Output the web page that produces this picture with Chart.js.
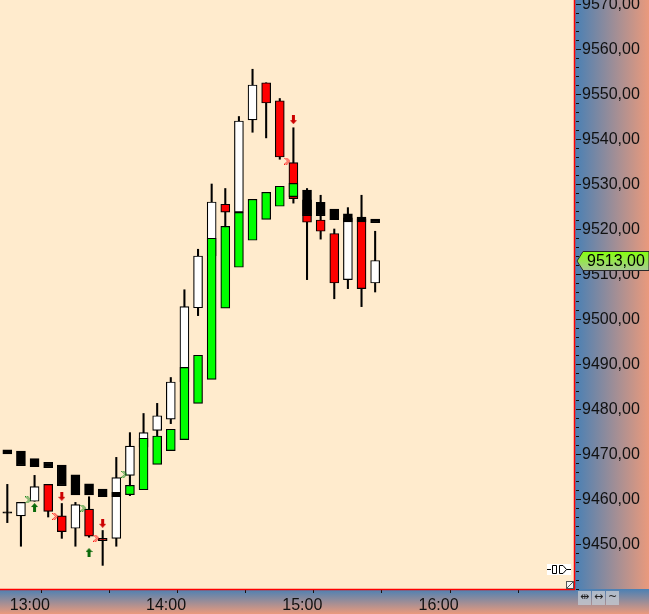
<!DOCTYPE html>
<html>
<head>
<meta charset="utf-8">
<title>Intraday chart</title>
<script src="https://cdn.jsdelivr.net/npm/chart.js@4.4.0/dist/chart.umd.min.js"></script>
<style>
  html, body { margin: 0; padding: 0; background: #ffffff; }
  #wrap { width: 649px; height: 614px; }
</style>
</head>
<body>
<div id="wrap"><canvas id="chart" width="649" height="614"></canvas></div>
<script>
/* 6 minute bars, bar 0 = 13:00 */
var barOpen  = [9457.0, 9456.25, 9459.5, 9463.25, 9456.25, 9453.5, 9457.75, 9451.25, 9451.25, 9465.25, 9471.5, 9475.25, 9477.75, 9486.0, 9502.5, 9514.0, 9525.5, 9523.75, 9544.25, 9552.5, 9548.5, 9534.75, 9526.5, 9522.0, 9519.0, 9508.75, 9522.25, 9508.0];
var barHigh  = [9463.25, 9459.25, 9465.25, 9463.25, 9459.0, 9459.25, 9460.5, 9453.0, 9469.25, 9474.75, 9479.0, 9481.25, 9487.0, 9506.5, 9515.5, 9530.0, 9529.0, 9545.0, 9555.5, 9552.5, 9549.0, 9542.5, 9529.0, 9527.5, 9520.0, 9524.75, 9527.5, 9519.5];
var barLow   = [9454.75, 9449.5, 9459.5, 9456.0, 9451.25, 9449.5, 9451.5, 9445.25, 9449.5, 9460.75, 9470.0, 9472.5, 9476.75, 9484.5, 9500.75, 9512.0, 9519.5, 9521.5, 9541.5, 9540.25, 9535.5, 9525.75, 9508.75, 9517.75, 9504.5, 9506.75, 9502.75, 9506.0];
var barClose = [9457.0, 9459.25, 9462.75, 9457.25, 9452.75, 9458.75, 9451.75, 9450.75, 9464.75, 9471.75, 9474.75, 9478.5, 9486.0, 9502.75, 9514.0, 9526.0, 9523.75, 9544.0, 9552.0, 9548.0, 9536.0, 9526.75, 9521.5, 9519.5, 9508.0, 9522.5, 9506.75, 9513.0];

/* indicator blocks (green = up, black = down) */
var blockTop    = [9470.9, 9470.65, 9469.0, 9468.15, 9467.55, 9465.35, 9463.35, 9462.2, 9461.5, 9463.05, 9473.5, 9474.0, 9475.5, 9489.25, 9491.95, 9517.95, 9520.6, 9523.7, 9526.6, 9528.15, 9529.5, 9530.15, 9528.65, 9525.95, 9524.45, 9523.35, 9522.65, 9522.2];
var blockBottom = [9470.0, 9467.4, 9467.2, 9466.95, 9462.95, 9460.9, 9460.9, 9460.5, 9460.5, 9460.95, 9462.05, 9467.7, 9470.75, 9473.2, 9481.25, 9486.6, 9502.4, 9511.5, 9517.5, 9522.15, 9525.05, 9527.2, 9522.95, 9522.95, 9522.05, 9521.6, 9521.6, 9521.4];
var blockUp     = [0, 0, 0, 0, 0, 0, 0, 0, 0, 1, 1, 1, 1, 1, 1, 1, 1, 1, 1, 1, 1, 1, 0, 0, 0, 0, 0, 0];

/* signal markers */
var upArrowX = [2, 6];
var upArrowY = [9458.1, 9448.1];
var downArrowX = [4, 7, 21];
var downArrowY = [9460.6, 9454.6, 9544.3];
var buyMarkX = [1.54, 5.57, 8.59];
var buyMarkY = [9459.8, 9458.0, 9465.5];
var sellMarkX = [3.52, 6.53, 20.55];
var sellMarkY = [9456.15, 9451.3, 9535.1];

/* axes */
var xTickPos = [0, 5, 10, 15, 20, 25, 30, 35];
var xTickLabels = ['13:00', '', '14:00', '', '15:00', '', '16:00', ''];
var yLabelTicks = [9450, 9460, 9470, 9480, 9490, 9500, 9510, 9520, 9530, 9540, 9550, 9560, 9570];
var yMinorStep = 2;
var yMin = 9440, yMax = 9570.89;
var xMin = -0.537, xMax = 41.67;

var FONT = "16px 'Liberation Sans', Arial, sans-serif";
Chart.defaults.font.family = "'Liberation Sans', Arial, sans-serif";
Chart.defaults.font.size = 16;
Chart.defaults.color = '#000000';

function fmtPrice(v){
	return v.toFixed(2).replace('.', ',');
}

/* small pixel icons used as point styles */
function makeArrow(color, up){
	var c = document.createElement('canvas');
	c.width = 7; c.height = 9;
	var g = c.getContext('2d');
	g.fillStyle = color;
	g.beginPath();
	if(up){
		g.moveTo(3.5, 0); g.lineTo(7, 4); g.lineTo(5, 4); g.lineTo(5, 9);
		g.lineTo(2, 9); g.lineTo(2, 4); g.lineTo(0, 4);
	}else{
		g.moveTo(2, 0); g.lineTo(5, 0); g.lineTo(5, 5); g.lineTo(7, 5);
		g.lineTo(3.5, 9); g.lineTo(0, 5); g.lineTo(2, 5);
	}
	g.closePath();
	g.fill();
	return c;
}

function makeChevron(color){
	var rows = ["X.X...", ".X.X..", "..X.X.", "...X.X", "..X.X.", ".X.X..", "X.X..."];
	var c = document.createElement('canvas');
	c.width = 6; c.height = 7;
	var g = c.getContext('2d');
	g.fillStyle = color;
	for(var r = 0; r < rows.length; r++){
		for(var k = 0; k < rows[r].length; k++){
			if(rows[r][k] == 'X'){ g.fillRect(k, r, 1, 1); }
		}
	}
	return c;
}

/* build datasets from the arrays */
var wickData = [], bodyData = [], bodyColors = [], blockData = [], blockColors = [];
for(var i = 0; i < barOpen.length; i++){
	wickData.push({x: i, y: [barLow[i], barHigh[i]]});
	var o = barOpen[i], c = barClose[i];
	if(o == c){
		bodyData.push({x: i, y: [o - 0.15, o + 0.15]});
		bodyColors.push('#000000');
	}else{
		bodyData.push({x: i, y: [o, c]});
		bodyColors.push(c > o ? '#FFFFFF' : '#FF0000');
	}
	blockData.push({x: i, y: [blockBottom[i], blockTop[i]]});
	blockColors.push(blockUp[i] ? '#00FF00' : '#000000');
}

function pts(xs, ys){
	var out = [];
	for(var k = 0; k < xs.length; k++){ out.push({x: xs[k], y: ys[k]}); }
	return out;
}

var framePlugin = {
	id: 'frame',
	beforeDraw: function(chart){
		var ctx = chart.ctx, a = chart.chartArea, W = chart.width, H = chart.height;
		ctx.save();
		ctx.fillStyle = '#FFEBCD';
		ctx.fillRect(a.left, a.top, a.right - a.left, a.bottom - a.top);
		var g = ctx.createLinearGradient(a.right, 0, W, 0);
		g.addColorStop(0, '#4A80B4');
		g.addColorStop(1, '#EA9A7C');
		ctx.fillStyle = g;
		ctx.fillRect(a.right, 0, W - a.right, a.bottom);
		var g2 = ctx.createLinearGradient(0, a.bottom, 0, H);
		g2.addColorStop(0, '#4A80B4');
		g2.addColorStop(1, '#EA9A7C');
		ctx.fillStyle = g2;
		ctx.fillRect(0, a.bottom, W, H - a.bottom);

		/* y ticks and labels: long mark on labelled values, short on the rest */
		var ys = chart.scales.y;
		ctx.strokeStyle = '#111111';
		ctx.fillStyle = '#111111';
		ctx.lineWidth = 1;
		ctx.font = FONT;
		ctx.textAlign = 'left';
		ctx.textBaseline = 'middle';
		ys.ticks.forEach(function(t){
			var py = Math.round(ys.getPixelForValue(t.value)) + 0.5;
			var major = yLabelTicks.indexOf(t.value) >= 0;
			ctx.beginPath();
			ctx.moveTo(a.right + 1, py);
			ctx.lineTo(a.right + 1 + (major ? 5 : 3), py);
			ctx.stroke();
			if(major){ ctx.fillText(fmtPrice(t.value), a.right + 7, py + 0.5); }
		});
		ctx.restore();
	},
	afterDraw: function(chart){
		var ctx = chart.ctx, a = chart.chartArea, W = chart.width;
		ctx.save();
		/* red frame */
		ctx.strokeStyle = '#FF0000';
		ctx.lineWidth = 1.5;
		ctx.beginPath();
		ctx.moveTo(a.right - 0.5, 0);
		ctx.lineTo(a.right - 0.5, a.bottom + 0.5);
		ctx.lineTo(0, a.bottom + 0.5);
		ctx.stroke();

		/* last price label */
		var last = barClose[barClose.length - 1];
		var py = Math.round(chart.scales.y.getPixelForValue(last));
		var lg = ctx.createLinearGradient(0, py - 9, 0, py + 10);
		lg.addColorStop(0, '#86FF10');
		lg.addColorStop(1, '#A8C898');
		ctx.fillStyle = lg;
		ctx.strokeStyle = '#2a2a2a';
		ctx.lineWidth = 1;
		ctx.beginPath();
		ctx.moveTo(a.right + 2, py);
		ctx.lineTo(a.right + 8, py - 9.5);
		ctx.lineTo(W, py - 9.5);
		ctx.lineTo(W, py + 9.5);
		ctx.lineTo(a.right + 8, py + 9.5);
		ctx.closePath();
		ctx.fill();
		ctx.stroke();
		ctx.fillStyle = '#000000';
		ctx.font = FONT;
		ctx.textBaseline = 'middle';
		ctx.textAlign = 'left';
		ctx.fillText(fmtPrice(last), a.right + 12, py + 1);

		/* connection icon */
		ctx.fillStyle = '#FFFFFF';
		ctx.fillRect(547, 564, 24, 11);
		ctx.strokeStyle = '#000000';
		ctx.lineWidth = 1;
		ctx.beginPath();
		ctx.moveTo(547, 569.5); ctx.lineTo(551, 569.5);
		ctx.moveTo(556.5, 565.5); ctx.lineTo(552.5, 565.5); ctx.lineTo(552.5, 573.5); ctx.lineTo(556.5, 573.5);
		ctx.moveTo(556.5, 565.5); ctx.lineTo(556.5, 573.5);
		ctx.moveTo(559.5, 565.5); ctx.lineTo(563, 565.5); ctx.lineTo(566.5, 569.5); ctx.lineTo(563, 573.5); ctx.lineTo(559.5, 573.5); ctx.closePath();
		ctx.moveTo(566.5, 569.5); ctx.lineTo(571, 569.5);
		ctx.stroke();

		/* resize corner */
		ctx.fillStyle = '#F4F4F4';
		ctx.fillRect(566, 581, 8, 8);
		ctx.strokeStyle = '#555555';
		ctx.strokeRect(566.5, 581.5, 7, 7);
		ctx.beginPath();
		ctx.moveTo(567, 588); ctx.lineTo(573, 582);
		ctx.stroke();

		/* corner buttons */
		var bx = [578, 592, 606];
		var bt = ['\u21F9', '\u2194', '~'];
		for(var k = 0; k < bx.length; k++){
			ctx.fillStyle = 'rgba(190,196,206,0.85)';
			ctx.fillRect(bx[k], 591, 13, 14);
			ctx.fillStyle = '#222222';
			ctx.font = "11px 'DejaVu Sans', sans-serif";
			ctx.textAlign = 'center';
			ctx.fillText(bt[k], bx[k] + 6.5, 597);
		}
		ctx.restore();
	}
};

var ctx = document.getElementById('chart').getContext('2d');
var chart = new Chart(ctx, {
	type: 'bar',
	data: {
		datasets: [
			{
				type: 'scatter', label: 'buy', order: 0,
				data: pts(upArrowX, upArrowY),
				pointStyle: makeArrow('#0B6A0B', true), showLine: false
			},
			{
				type: 'scatter', label: 'sell', order: 0,
				data: pts(downArrowX, downArrowY),
				pointStyle: makeArrow('#CC0000', false), showLine: false
			},
			{
				type: 'scatter', label: 'buyMark', order: 0,
				data: pts(buyMarkX, buyMarkY),
				pointStyle: makeChevron('#1E8A1E'), showLine: false
			},
			{
				type: 'scatter', label: 'sellMark', order: 0,
				data: pts(sellMarkX, sellMarkY),
				pointStyle: makeChevron('#FF1010'), showLine: false
			},
			{
				label: 'blocks', order: 1,
				data: blockData,
				backgroundColor: blockColors,
				borderColor: '#000000', borderWidth: 1.2, borderSkipped: false,
				barThickness: 9, grouped: false
			},
			{
				label: 'bodies', order: 2,
				data: bodyData,
				backgroundColor: bodyColors,
				borderColor: '#000000', borderWidth: 1.2, borderSkipped: false,
				barThickness: 9, grouped: false
			},
			{
				label: 'wicks', order: 3,
				data: wickData,
				backgroundColor: '#000000', borderWidth: 0,
				barThickness: 1.4, grouped: false
			}
		]
	},
	options: {
		responsive: false,
		animation: false,
		events: [],
		layout: { padding: 0, autoPadding: false },
		plugins: { legend: { display: false }, tooltip: { enabled: false } },
		scales: {
			x: {
				type: 'linear', offset: false, min: xMin, max: xMax,
				afterBuildTicks: function(s){ s.ticks = xTickPos.map(function(v){ return {value: v}; }); },
				afterFit: function(s){ s.height = 25; },
				grid: { drawOnChartArea: false, drawTicks: true, tickLength: 4, tickColor: '#111111', tickWidth: 1 },
				border: { display: false },
				ticks: {
					autoSkip: false, maxRotation: 0, align: 'start', labelOffset: 2.5, padding: 2.5,
					color: '#111111',
					callback: function(v){ var k = xTickPos.indexOf(v); return k >= 0 ? xTickLabels[k] : ''; }
				}
			},
			y: {
				type: 'linear', position: 'right', min: yMin, max: yMax,
				afterBuildTicks: function(s){
					var arr = [];
					for(var v = yMin; v <= yMax; v += yMinorStep){ arr.push({value: v}); }
					s.ticks = arr;
				},
				afterFit: function(s){ s.width = 74; },
				grid: { display: false, drawTicks: false },
				border: { display: false },
				ticks: { display: false }
			}
		}
	},
	plugins: [framePlugin]
});
</script>
</body>
</html>
